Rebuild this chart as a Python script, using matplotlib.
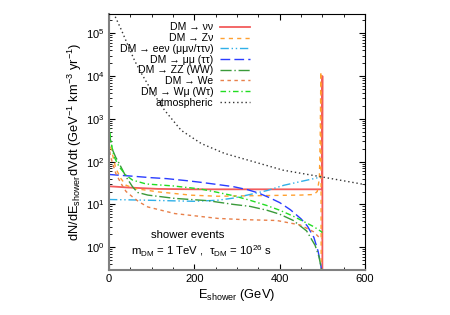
import numpy as np
import matplotlib
matplotlib.use('Agg')
import matplotlib.pyplot as plt
from matplotlib.ticker import MultipleLocator, LogLocator, NullFormatter

plt.rcParams['font.family'] = ['Liberation Sans', 'DejaVu Sans']
plt.rcParams['mathtext.fontset'] = 'custom'
plt.rcParams['mathtext.rm'] = 'Liberation Sans'
plt.rcParams['mathtext.it'] = 'Liberation Sans:italic'
plt.rcParams['font.size'] = 8

# spectra (E in GeV, rate in GeV^-1 km^-3 yr^-1)
e_nunu = [0, 44.5, 115, 200, 300, 400, 499, 500, 500]
y_nunu = [26.5, 24.8, 23, 22.5, 22.5, 22.5, 22.5, 1e4, 0.01]

e_znu = [0, 5, 16, 28, 40, 60, 115, 193, 255, 350, 450, 480, 488, 493, 495, 496.5, 497.5]
y_znu = [350, 200, 69, 40, 28, 23.5, 19.6, 16.4, 15.5, 16, 16.5, 17, 20, 40, 400, 12500, 0.01]

e_eenu = [0, 76, 135, 200, 255, 291, 330, 370, 410, 448, 470, 498]
y_eenu = [13, 12.6, 12.2, 11.8, 12.5, 14, 17, 21, 28, 34, 38, 44]

e_mumu = [0, 50, 100, 135, 180, 213, 250, 291, 325, 350, 375, 400, 425, 450, 465, 480, 490, 495, 498]
y_mumu = [50, 46, 42, 40, 36, 33, 29.5, 26, 22, 18.5, 14.5, 11, 7.5, 4.6, 3.1, 1.7, 0.8, 0.45, 0.3]

e_zz = [0, 4, 8.6, 16, 24, 40, 55, 67, 91, 154, 232, 291, 330, 370, 400, 432, 463, 483, 492, 498]
y_zz = [500, 300, 185, 125, 90, 44, 26, 19, 16.5, 13.8, 12.2, 10, 9, 7.3, 5.9, 4.2, 2.4, 1.1, 0.6, 0.3]

e_we = [0, 3, 8.6, 16, 28, 40, 55, 70, 91, 154, 255, 315, 393, 448, 479, 495, 500]
y_we = [250, 140, 90, 53, 31, 20, 15, 11.5, 8.7, 6.1, 4.7, 4.4, 4.2, 3.3, 2.3, 1.6, 1.6]

e_wmu = [0, 2, 5, 12, 24, 40, 55, 87, 150, 213, 250, 291, 330, 370, 400, 430, 460, 480, 495, 500]
y_wmu = [950, 500, 270, 130, 75, 48, 37, 30, 27, 23, 19.5, 16, 12.5, 9.4, 7.3, 5.4, 3.8, 3.0, 2.4, 2.2]

e_atm = [11, 13.4, 29, 44.5, 60, 76, 99, 130, 169, 216, 271, 341, 408, 498, 600]
y_atm = [3e5, 2.6e5, 1.2e5, 5.2e4, 2.3e4, 1.15e4, 4.7e3, 1.6e3, 540, 265, 155, 98, 63, 44, 29]

fig = plt.figure(figsize=(4.5, 3.15), dpi=100)
ax = fig.add_axes([0.2422, 0.1444, 0.569, 0.8127])

ax.plot(e_nunu, y_nunu, color='#f25c5c', lw=1.3, label='DM → νν')
ax.plot(e_znu, y_znu, color='#ffa030', lw=1, ls=(0, (3, 3)), label='DM → Zν')
ax.plot(e_eenu, y_eenu, color='#30b0e8', lw=1, ls=(0, (6, 2, 1, 2, 1, 2)),
        label='DM → eeν (μμν/ττν)')
ax.plot(e_mumu, y_mumu, color='#2a3cff', lw=1, ls=(0, (7, 3)), label='DM → μμ (ττ)')
ax.plot(e_zz, y_zz, color='#3a9a3a', lw=1, ls=(0, (8, 2, 1, 2)), label='DM → ZZ (WW)')
ax.plot(e_we, y_we, color='#e8804a', lw=1, ls=(0, (2.5, 2.5)), label='DM → We')
ax.plot(e_wmu, y_wmu, color='#22dd22', lw=1, ls=(0, (4, 2, 1, 2)), label='DM → Wμ (Wτ)')
ax.plot(e_atm, y_atm, color='#333333', lw=1, ls=(0, (1, 2)), label='atmospheric')

ax.set_yscale('log')
ax.set_xlim(0, 600)
ax.set_ylim(0.3, 2.9e5)
ax.xaxis.set_major_locator(MultipleLocator(200))
ax.xaxis.set_minor_locator(MultipleLocator(50))
ax.yaxis.set_major_locator(LogLocator(base=10, numticks=12))
ax.yaxis.set_minor_locator(LogLocator(base=10, subs=np.arange(2, 10), numticks=12))
ax.yaxis.set_minor_formatter(NullFormatter())
ax.tick_params(which='both', direction='in', top=True, right=True, labelsize=8)
ax.tick_params(which='major', length=4)
ax.tick_params(which='minor', length=2)
for s in ['left', 'bottom']:
    ax.spines[s].set_color('#808080')
    ax.spines[s].set_linewidth(1.5)

ax.set_xlabel(r'E$_{\mathregular{shower}}$ (GeV)', fontsize=9.3, labelpad=2)
ax.set_ylabel(r'dN/dE$_{\mathregular{shower}}$dVdt (GeV$^{\mathregular{-1}}$ km$^{\mathregular{-3}}$ yr$^{\mathregular{-1}}$)',
              fontsize=9.3, labelpad=1)

ax.text(0.309, 0.135, 'shower events', transform=ax.transAxes, ha='center', va='center', fontsize=8.2)
ax.text(0.36, 0.072, r'm$_{\mathregular{DM}}$ = 1 TeV ,  τ$_{\mathregular{DM}}$ = 10$^{\mathregular{26}}$ s',
        transform=ax.transAxes, ha='center', va='center', fontsize=8.2)

ax.legend(loc='upper right', bbox_to_anchor=(0.55, 0.965), frameon=False, markerfirst=False,
          alignment='right', borderpad=0, borderaxespad=0, handlelength=2.8,
          handletextpad=0.65, labelspacing=0.07, fontsize=7.6)

fig.savefig('out.png', dpi=100)
